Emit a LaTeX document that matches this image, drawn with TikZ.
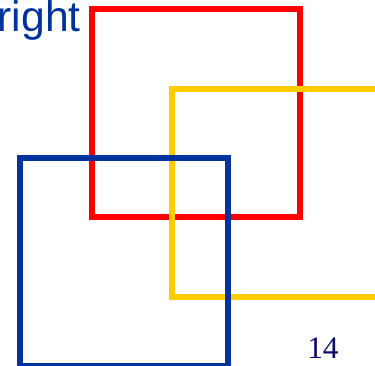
\documentclass[tikz,border=0pt]{standalone}
\usepackage{fontspec}
\setmainfont{Liberation Serif}
\setsansfont{Liberation Sans}
\definecolor{boxred}{RGB}{255,0,0}
\definecolor{boxyellow}{RGB}{255,204,0}
\definecolor{boxblue}{RGB}{0,51,160}
\definecolor{pagenavy}{RGB}{10,10,110}
\tikzset{
  square/.style={line width=4.5pt},
  titletext/.style={inner sep=0pt, anchor=base west, text=boxblue,
    font=\sffamily\fontsize{32}{32}\selectfont},
  pagenum/.style={inner sep=0pt, anchor=base west, text=pagenavy,
    font=\fontsize{23.5}{23.5}\selectfont}
}
\begin{document}
\begin{tikzpicture}[x=0.75pt,y=-0.75pt]
        \useasboundingbox (0,0) rectangle (375,365);
        \clip (0,0) rectangle (375,365);
        % slide title, cut off at the left
        \node[titletext] (title) at (-2.5,31) {right};
        % the three squares
        \draw[square, boxred] (92,8.5) rectangle (300,216.5);
        \draw[square, boxyellow] (172,89) rectangle (380,297);
        \draw[square, boxblue] (20,158) rectangle (228,366);
        \node[pagenum] (page) at (307,358) {14};
    \end{tikzpicture}
\end{document}
